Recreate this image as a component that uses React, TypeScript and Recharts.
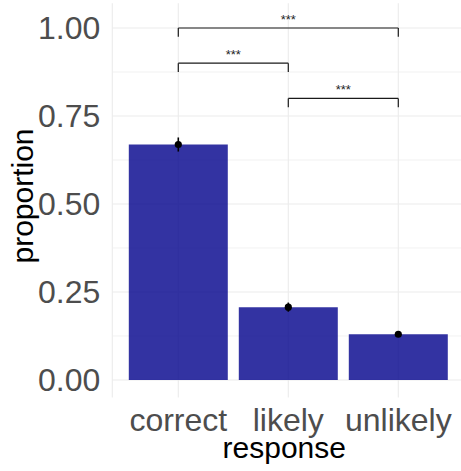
import React from 'react';
import { ComposedChart, Bar, Line, ErrorBar, XAxis, YAxis, CartesianGrid, ReferenceLine, Label } from 'recharts';

const categories = ['correct', 'likely', 'unlikely'];
const proportions = [0.669, 0.207, 0.13];
const errors = [0.02, 0.013, 0.008];
const yTicks = [0, 0.25, 0.5, 0.75, 1];
const minorTicks = [0.125, 0.375, 0.625, 0.875];

// significance brackets (ggsignif style)
const bracketFrom = ['correct', 'correct', 'likely'];
const bracketTo = ['unlikely', 'likely', 'unlikely'];
const bracketY = [1.0, 0.9, 0.8];
const bracketLabels = ['***', '***', '***'];
const tipLength = 0.025;

const data = categories.map((c, i) => ({ response: c, proportion: proportions[i], se: errors[i] }));

const FONT = '"Liberation Sans", Arial, sans-serif';

export default function App() {
  return (
    <div style={{ position: 'absolute', left: 0, top: 0, width: 461, height: 471, overflow: 'hidden', background: 'white' }}>
      <ComposedChart
        width={464.3}
        height={471}
        data={data}
        margin={{ top: 3.36, right: 0, bottom: 0, left: 0 }}
        barCategoryGap="5%"
      >
        <CartesianGrid stroke="#EBEBEB" strokeWidth={0.7} vertical={false} horizontalValues={minorTicks} />
        <CartesianGrid stroke="#EBEBEB" strokeWidth={1.1} horizontalValues={yTicks} />
        <XAxis
          dataKey="response"
          height={73.4}
          padding={{ left: 11, right: 11 }}
          axisLine={false}
          tickLine={false}
          tickSize={0}
          tickMargin={11}
          tick={{ fill: '#4D4D4D', fontSize: 32, fontFamily: FONT }}
        >
          <Label
            content={({ viewBox }: any) => (
              <text x={viewBox.x + viewBox.width / 2 - 4} y={458} textAnchor="middle" fontSize={30} fontFamily={FONT} fill="#000">
                response
              </text>
            )}
          />
        </XAxis>
        <YAxis
          type="number"
          domain={[-0.05, 1.07]}
          ticks={yTicks}
          width={112.3}
          axisLine={false}
          tickLine={false}
          tickSize={0}
          tickMargin={12}
          tickFormatter={(v: number) => v.toFixed(2)}
          tick={{ fill: '#4D4D4D', fontSize: 32, fontFamily: FONT }}
        >
          <Label
            content={() => (
              <text x={33} y={196} transform="rotate(-90 33 196)" textAnchor="middle" fontSize={30} fontFamily={FONT} fill="#000">
                proportion
              </text>
            )}
          />
        </YAxis>
        <Bar dataKey="proportion" fill="#00008B" fillOpacity={0.8} isAnimationActive={false}>
          <ErrorBar dataKey="se" width={0} stroke="#000" strokeWidth={1.6} />
        </Bar>
        <Line
          dataKey="proportion"
          stroke="none"
          dot={{ r: 3.6, fill: '#000', stroke: 'none' }}
          activeDot={false}
          isAnimationActive={false}
        />
        {bracketY.map((y, i) => (
          <ReferenceLine
            key={'h' + i}
            segment={[{ x: bracketFrom[i], y }, { x: bracketTo[i], y }]}
            stroke="#1a1a1a"
            strokeWidth={1.2}
            label={{ value: bracketLabels[i], position: 'top', offset: 4, fontSize: 13, fill: '#222', fontFamily: FONT }}
          />
        ))}
        {bracketY.map((y, i) => (
          <ReferenceLine
            key={'l' + i}
            segment={[{ x: bracketFrom[i], y }, { x: bracketFrom[i], y: y - tipLength }]}
            stroke="#1a1a1a"
            strokeWidth={1.2}
          />
        ))}
        {bracketY.map((y, i) => (
          <ReferenceLine
            key={'r' + i}
            segment={[{ x: bracketTo[i], y }, { x: bracketTo[i], y: y - tipLength }]}
            stroke="#1a1a1a"
            strokeWidth={1.2}
          />
        ))}
      </ComposedChart>
    </div>
  );
}
